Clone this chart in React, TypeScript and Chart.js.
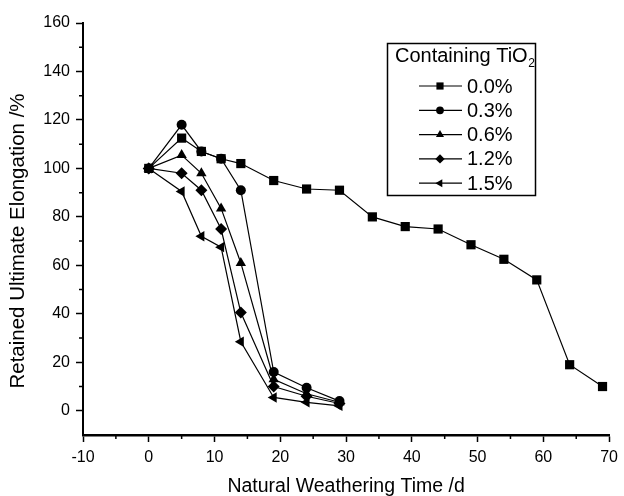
import React, { useEffect, useRef } from 'react';
import { Chart, registerables } from 'chart.js';

Chart.register(...registerables);

const daysLong = [0, 5, 8, 11, 14, 19, 24, 29, 34, 39, 44, 49, 54, 59, 64, 69];
const daysShort = [0, 5, 8, 11, 14, 19, 24, 29];
const seriesLabels = ['0.0%', '0.3%', '0.6%', '1.2%', '1.5%'];
const tio2_00 = [100, 112.5, 107, 104, 102, 95, 91.5, 91, 80, 76, 75, 68.5, 62.5, 54, 19, 10];
const tio2_03 = [100, 118, 107, 104, 91, 16, 9.5, 4];
const tio2_06 = [100, 105.5, 98, 83.5, 61, 13, 7, 3.5];
const tio2_12 = [100, 98, 91, 75, 40.5, 10, 6, 3];
const tio2_15 = [100, 90.5, 72, 67.5, 28.5, 5.5, 3.5, 2];
const xTicks = [-10, 0, 10, 20, 30, 40, 50, 60, 70];
const xMinorTicks = [-5, 5, 15, 25, 35, 45, 55, 65];
const yTicks = [0, 20, 40, 60, 80, 100, 120, 140, 160];
const yMinorTicks = [10, 30, 50, 70, 90, 110, 130, 150];
const xTitle = 'Natural Weathering Time /d';
const yTitle = 'Retained Ultimate Elongation /%';
const legendTitle = 'Containing TiO';
const legendTitleSub = '2';

const FONT = 'Liberation Sans, Arial, sans-serif';

const styles: { pointStyle: string; rotation: number; radius: number }[] = [
  { pointStyle: 'rect', rotation: 0, radius: 6.5 },
  { pointStyle: 'circle', rotation: 0, radius: 5 },
  { pointStyle: 'triangle', rotation: 0, radius: 6 },
  { pointStyle: 'rectRot', rotation: 0, radius: 6 },
  { pointStyle: 'triangle', rotation: -90, radius: 6 },
];

function toPoints(xs: number[], ys: number[]) {
  return xs.map((x, i) => ({ x, y: ys[i] }));
}

function drawMarker(ctx: CanvasRenderingContext2D, style: string, rotation: number, x: number, y: number, r: number) {
  ctx.beginPath();
  if (style === 'rect') {
    const s = r * Math.SQRT1_2;
    ctx.rect(x - s, y - s, 2 * s, 2 * s);
  } else if (style === 'circle') {
    ctx.arc(x, y, r, 0, Math.PI * 2);
  } else if (style === 'rectRot') {
    ctx.moveTo(x, y - r);
    ctx.lineTo(x + r, y);
    ctx.lineTo(x, y + r);
    ctx.lineTo(x - r, y);
    ctx.closePath();
  } else if (style === 'triangle') {
    let rad = (rotation * Math.PI) / 180;
    ctx.moveTo(x + Math.sin(rad) * r, y - Math.cos(rad) * r);
    rad += (2 * Math.PI) / 3;
    ctx.lineTo(x + Math.sin(rad) * r, y - Math.cos(rad) * r);
    rad += (2 * Math.PI) / 3;
    ctx.lineTo(x + Math.sin(rad) * r, y - Math.cos(rad) * r);
    ctx.closePath();
  }
  ctx.fill();
}

const extrasPlugin = {
  id: 'extras',
  afterDraw(chart: any) {
    const ctx = chart.ctx as CanvasRenderingContext2D;
    const xs = chart.scales.x;
    const ys = chart.scales.y;
    const area = chart.chartArea;
    ctx.save();
    // minor ticks
    ctx.strokeStyle = '#000';
    ctx.lineWidth = 1.5;
    ctx.beginPath();
    xMinorTicks.forEach((v) => {
      const px = xs.getPixelForValue(v);
      ctx.moveTo(px, area.bottom);
      ctx.lineTo(px, area.bottom + 4);
    });
    yMinorTicks.forEach((v) => {
      const py = ys.getPixelForValue(v);
      ctx.moveTo(area.left, py);
      ctx.lineTo(area.left - 4, py);
    });
    ctx.stroke();

    // axis titles
    ctx.fillStyle = '#000';
    ctx.textBaseline = 'middle';
    ctx.textAlign = 'center';
    ctx.font = `19.5px ${FONT}`;
    ctx.fillText(xTitle, (area.left + area.right) / 2, 487);
    ctx.save();
    ctx.translate(18, 241);
    ctx.rotate(-Math.PI / 2);
    ctx.font = `20.5px ${FONT}`;
    ctx.fillText(yTitle, 0, 0);
    ctx.restore();

    // legend box
    const bx = 387.5, by = 43.5, bw = 148, bh = 152;
    ctx.fillStyle = '#fff';
    ctx.fillRect(bx, by, bw, bh);
    ctx.strokeStyle = '#000';
    ctx.lineWidth = 1.5;
    ctx.strokeRect(bx, by, bw, bh);
    ctx.fillStyle = '#000';
    ctx.textAlign = 'left';
    ctx.font = `20px ${FONT}`;
    ctx.fillText(legendTitle, 395, 56);
    const tw = ctx.measureText(legendTitle).width;
    ctx.font = `12px ${FONT}`;
    ctx.fillText(legendTitleSub, 395 + tw + 0.5, 64);
    ctx.font = `20px ${FONT}`;
    chart.data.datasets.forEach((ds: any, i: number) => {
      const y = 86 + i * 24.3;
      ctx.strokeStyle = '#000';
      ctx.lineWidth = 1.2;
      ctx.beginPath();
      ctx.moveTo(419, y);
      ctx.lineTo(462, y);
      ctx.stroke();
      const st = styles[i];
      drawMarker(ctx, st.pointStyle, st.rotation, 440, y, st.radius * 0.78);
      ctx.fillText(ds.label, 467, y + 1);
    });
    ctx.restore();
  },
};

export default function App() {
  const ref = useRef<HTMLCanvasElement | null>(null);
  useEffect(() => {
    if (!ref.current) return;
    const seriesData = [
      toPoints(daysLong, tio2_00),
      toPoints(daysShort, tio2_03),
      toPoints(daysShort, tio2_06),
      toPoints(daysShort, tio2_12),
      toPoints(daysShort, tio2_15),
    ];
    const chart = new Chart(ref.current, {
      type: 'line',
      data: {
        datasets: seriesData.map((d, i) => ({
          label: seriesLabels[i],
          data: d,
          borderColor: '#000',
          backgroundColor: '#000',
          borderWidth: 1.2,
          pointStyle: styles[i].pointStyle as any,
          pointRotation: styles[i].rotation,
          pointRadius: styles[i].radius,
          pointBorderWidth: 0,
          pointBackgroundColor: '#000',
          tension: 0,
        })),
      },
      options: {
        animation: false,
        responsive: false,
        events: [],
        layout: { padding: { top: 23, left: 0, right: 11, bottom: 0 } },
        plugins: {
          legend: { display: false },
          tooltip: { enabled: false },
        },
        scales: {
          x: {
            type: 'linear',
            min: -10,
            max: 70,
            afterBuildTicks: (s: any) => {
              s.ticks = xTicks.map((v) => ({ value: v }));
            },
            afterFit: (s: any) => {
              s.height = 61;
            },
            grid: {
              drawOnChartArea: false,
              drawTicks: true,
              tickLength: 7,
              tickColor: '#000',
              tickWidth: 1.5,
            },
            border: { display: true, color: '#000', width: 2.5 },
            ticks: {
              color: '#000',
              font: { family: FONT, size: 16 },
              padding: 6,
              maxRotation: 0,
              autoSkip: false,
            },
            title: { display: false },
          },
          y: {
            type: 'linear',
            min: -10,
            max: 160,
            afterBuildTicks: (s: any) => {
              s.ticks = yTicks.map((v) => ({ value: v }));
            },
            afterFit: (s: any) => {
              s.width = 83;
            },
            grid: {
              drawOnChartArea: false,
              drawTicks: true,
              tickLength: 7,
              tickColor: '#000',
              tickWidth: 1.5,
            },
            border: { display: true, color: '#000', width: 2 },
            ticks: {
              color: '#000',
              font: { family: FONT, size: 16 },
              padding: 6,
              autoSkip: false,
            },
            title: { display: false },
          },
        },
      },
      plugins: [extrasPlugin],
    });
    return () => chart.destroy();
  }, []);
  return (
    <div style={{ position: 'absolute', left: 0, top: 0, width: 624, height: 496, background: '#fff' }}>
      <canvas ref={ref} width={624} height={496} style={{ display: 'block' }} />
    </div>
  );
}
